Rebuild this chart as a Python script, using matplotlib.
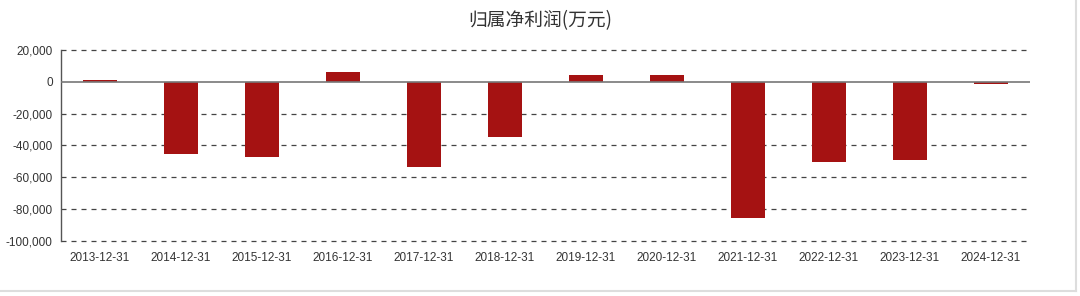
import matplotlib.pyplot as plt
from matplotlib.lines import Line2D

plt.rcParams['font.family'] = ['Liberation Sans', 'Noto Sans CJK SC', 'DejaVu Sans']

dates = ['2013-12-31', '2014-12-31', '2015-12-31', '2016-12-31', '2017-12-31', '2018-12-31',
         '2019-12-31', '2020-12-31', '2021-12-31', '2022-12-31', '2023-12-31', '2024-12-31']
profit = [900, -45500, -47200, 6300, -53300, -34800, 4400, 4000, -85500, -50300, -49200, -1200]
yticks = [20000, 0, -20000, -40000, -60000, -80000, -100000]

fig = plt.figure(figsize=(10.8, 2.96), dpi=100)
ax = fig.add_axes([0.0565, 0.186, 0.897, 0.645])

x = list(range(len(dates)))
ax.bar(x, profit, width=0.42, color='#a51212', zorder=3)

ax.set_xlim(-0.48, len(dates) - 0.52)
ax.set_ylim(-100000, 20000)
ax.set_yticks(yticks)
ax.set_yticklabels(['{:,}'.format(v) for v in yticks])
ax.set_xticks(x)
ax.set_xticklabels(dates)
ax.tick_params(axis='both', length=0, labelsize=8.5, colors='#333333')
ax.tick_params(axis='x', pad=8)
ax.tick_params(axis='y', pad=6)

# 网格线
for v in yticks:
    if v != 0:
        ax.axhline(v, color='#444444', lw=0.9, ls=(0, (4, 4)), zorder=1, clip_on=False)
ax.axhline(0, color='#777777', lw=1.2, zorder=4)

for s in ['top', 'right', 'bottom']:
    ax.spines[s].set_visible(False)
ax.spines['left'].set_color('#555555')
ax.spines['left'].set_linewidth(1.0)

fig.text(0.5, 0.93, '归属净利润(万元)', ha='center', va='center', fontsize=13.5,
         color='#333333', family=['Noto Sans CJK SC', 'DejaVu Sans'])

# 外框
fig.add_artist(Line2D([0, 0.996], [0.018, 0.018], color='#dddddd', lw=1.5))
fig.add_artist(Line2D([0.996, 0.996], [0.018, 1], color='#dddddd', lw=1.5))

fig.savefig('out.png', dpi=100)
